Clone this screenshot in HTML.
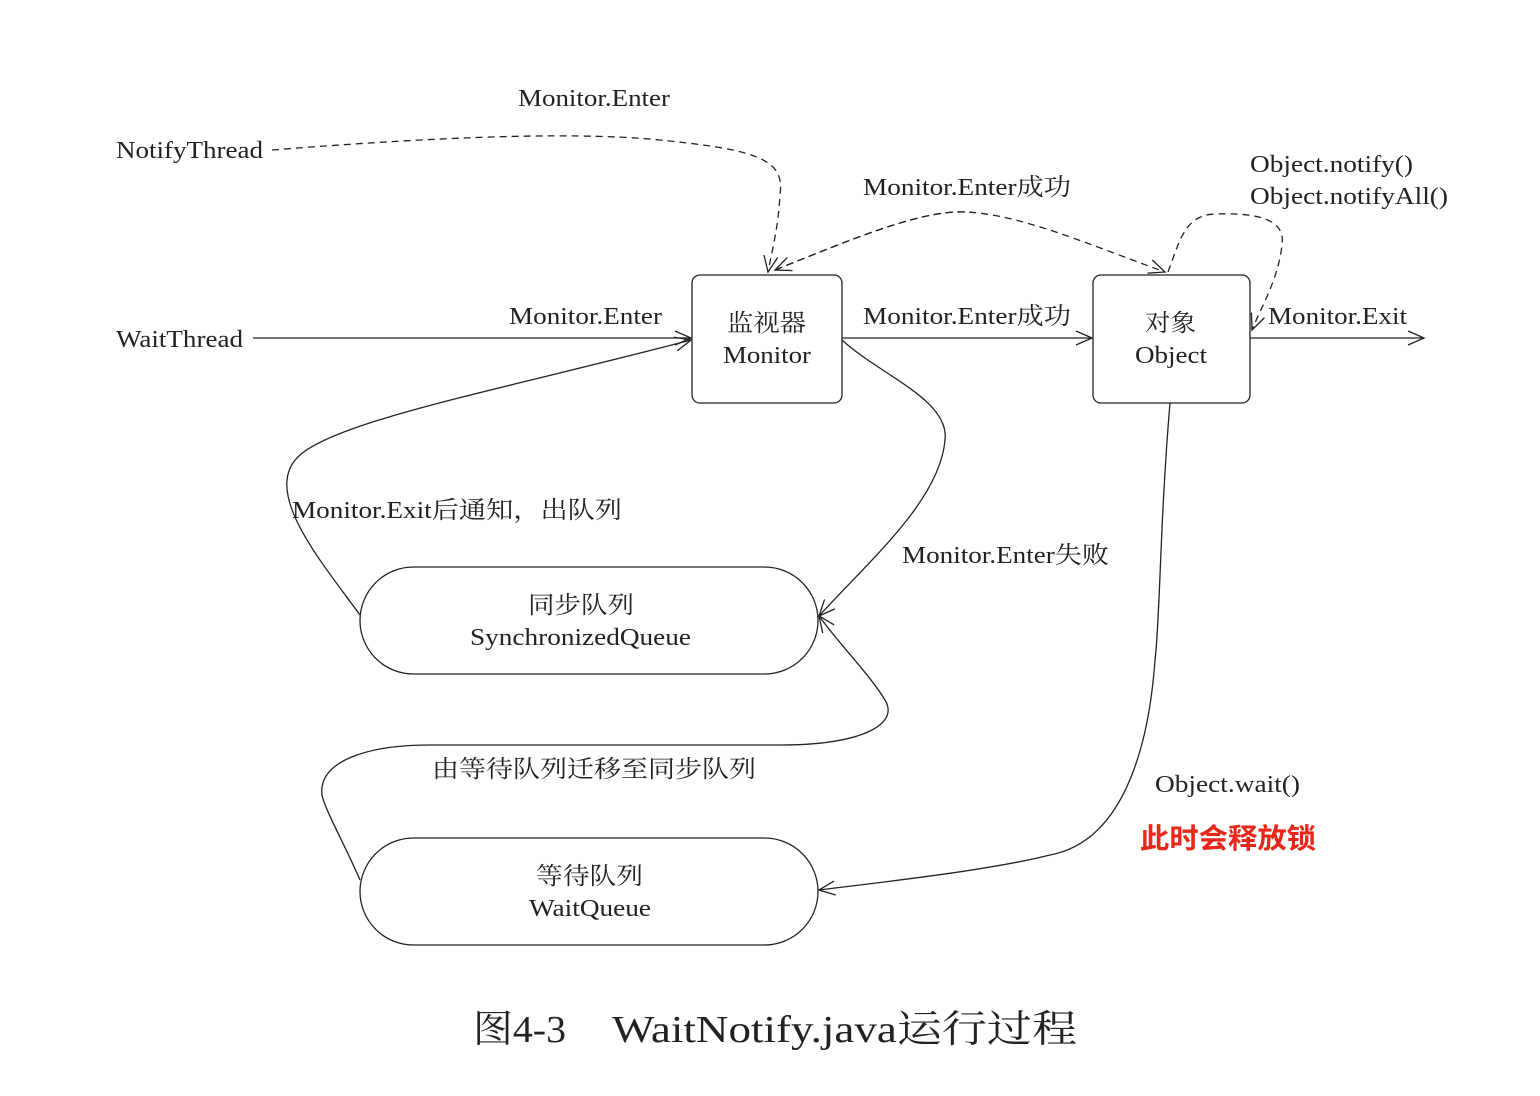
<!DOCTYPE html>
<html><head><meta charset="utf-8"><style>
html,body{margin:0;padding:0;background:#fff;}
svg{display:block;}
text{font-family:"Liberation Serif","Noto Serif CJK SC",serif;font-size:24px;fill:#222;}
</style></head><body>
<svg width="1540" height="1096" viewBox="0 0 1540 1096" xmlns="http://www.w3.org/2000/svg">
<defs>
<marker id="a" markerWidth="20" markerHeight="16" refX="17" refY="8" orient="auto" markerUnits="userSpaceOnUse">
<path d="M1,1 L17,8 L1,15" fill="none" stroke="#222" stroke-width="1.3"/>
</marker>
</defs>
<g fill="none" stroke="#222" stroke-width="1.3">
<rect x="692" y="275" width="150" height="128" rx="8"/>
<rect x="1093" y="275" width="157" height="128" rx="8"/>
<rect x="360" y="567" width="458" height="107" rx="53.5"/>
<rect x="360" y="838" width="458" height="107" rx="53.5"/>
<line x1="253" y1="338" x2="691" y2="338" marker-end="url(#a)"/>
<line x1="842" y1="338" x2="1092" y2="338" marker-end="url(#a)"/>
<line x1="1250" y1="338" x2="1424" y2="338" marker-end="url(#a)"/>
<path d="M842,340 C880,375 950,400 945,440 C940,500 870,560 819,616" marker-end="url(#a)"/>
<path d="M360,615 C320,560 260,490 300,455 C340,420 500,390 691,340" marker-end="url(#a)"/>
<path d="M360,880 C345,845 325,810 322,795 C318,760 370,745 430,745 L780,745 C860,745 900,725 885,700 C870,675 840,645 819,616" marker-end="url(#a)"/>
<path d="M1170,403 C1160,520 1160,620 1155,660 C1150,730 1130,840 1050,855 C990,870 900,880 819,890" marker-end="url(#a)"/>
<g stroke-dasharray="7,5">
<path d="M272,150 C400,140 560,130 660,140 C760,150 785,160 780,195 C778,230 772,250 768,272" marker-end="url(#a)"/>
<path d="M775,270 C850,240 920,210 965,212 C1020,214 1090,245 1165,272" marker-end="url(#a)"/>
<path d="M965,212 C920,210 850,240 775,270" marker-end="url(#a)"/>
<path d="M1168,272 C1180,240 1185,215 1215,214 C1270,212 1285,225 1282,245 C1278,280 1262,305 1252,330" marker-end="url(#a)"/>
</g>
</g>
<text x="518" y="106" textLength="152" lengthAdjust="spacingAndGlyphs">Monitor.Enter</text>
<text x="116" y="158" textLength="147" lengthAdjust="spacingAndGlyphs">NotifyThread</text>
<text x="116" y="347" textLength="127" lengthAdjust="spacingAndGlyphs">WaitThread</text>
<text x="509" y="324" textLength="153" lengthAdjust="spacingAndGlyphs">Monitor.Enter</text>
<text x="727" y="331" textLength="79" lengthAdjust="spacingAndGlyphs">监视器</text>
<text x="723" y="363" textLength="88" lengthAdjust="spacingAndGlyphs">Monitor</text>
<text x="863" y="195" textLength="208" lengthAdjust="spacingAndGlyphs">Monitor.Enter成功</text>
<text x="863" y="324" textLength="208" lengthAdjust="spacingAndGlyphs">Monitor.Enter成功</text>
<text x="1145" y="331" textLength="51" lengthAdjust="spacingAndGlyphs">对象</text>
<text x="1135" y="363" textLength="72" lengthAdjust="spacingAndGlyphs">Object</text>
<text x="1250" y="172" textLength="163" lengthAdjust="spacingAndGlyphs">Object.notify()</text>
<text x="1250" y="204" textLength="198" lengthAdjust="spacingAndGlyphs">Object.notifyAll()</text>
<text x="1268" y="324" textLength="139" lengthAdjust="spacingAndGlyphs">Monitor.Exit</text>
<text x="292" y="518" textLength="330" lengthAdjust="spacingAndGlyphs">Monitor.Exit后通知，出队列</text>
<text x="902" y="563" textLength="207" lengthAdjust="spacingAndGlyphs">Monitor.Enter失败</text>
<text x="528" y="613" textLength="106" lengthAdjust="spacingAndGlyphs">同步队列</text>
<text x="470" y="645" textLength="221" lengthAdjust="spacingAndGlyphs">SynchronizedQueue</text>
<text x="432" y="777" textLength="324" lengthAdjust="spacingAndGlyphs">由等待队列迁移至同步队列</text>
<text x="536" y="884" textLength="107" lengthAdjust="spacingAndGlyphs">等待队列</text>
<text x="529" y="916" textLength="122" lengthAdjust="spacingAndGlyphs">WaitQueue</text>
<text x="1155" y="792" textLength="145" lengthAdjust="spacingAndGlyphs">Object.wait()</text>
<text x="1140" y="848" textLength="176" lengthAdjust="spacingAndGlyphs" style="font-family:'Liberation Sans','Noto Sans CJK SC',sans-serif;font-size:28px;fill:#e8261a;font-weight:bold">此时会释放锁</text>
<text x="473" y="1042" textLength="93" lengthAdjust="spacingAndGlyphs" style="font-size:38px">图4-3</text>
<text x="612" y="1042" textLength="465" lengthAdjust="spacingAndGlyphs" style="font-size:38px">WaitNotify.java运行过程</text>
</svg>
</body></html>
